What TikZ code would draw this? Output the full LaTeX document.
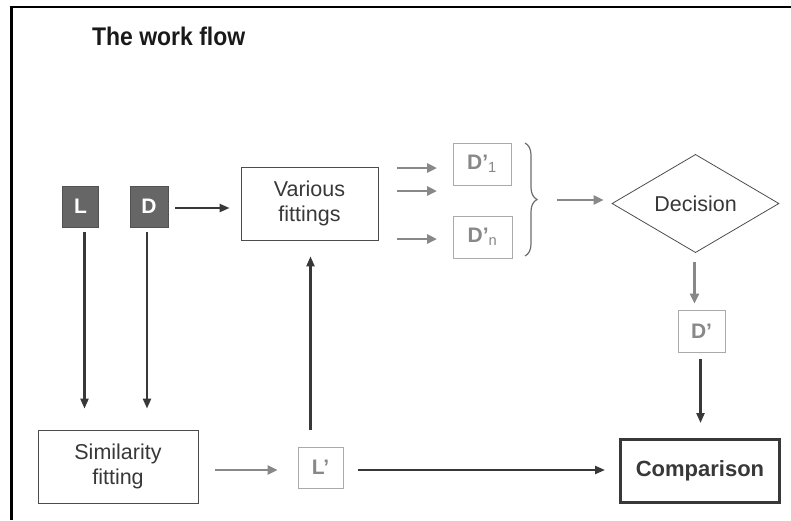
\documentclass[tikz,border=0pt]{standalone}
\usepackage{fontspec}
\setmainfont{Liberation Sans}
\newfontfamily\titlefont[FakeStretch=0.9]{Liberation Sans}
\usetikzlibrary{arrows.meta,shapes.geometric,decorations.pathreplacing}
\definecolor{dk}{HTML}{383838}
\definecolor{gr}{HTML}{888888}
\definecolor{lgr}{HTML}{AAAAAA}
\definecolor{fillg}{HTML}{666666}
\begin{document}
\begin{tikzpicture}[x=1pt,y=-1pt,
  fs/.style={font=\fontsize{#1}{#1}\selectfont},
  darkbox/.style={draw=fillg!80!black, fill=fillg, text=white, font=\bfseries\fontsize{21}{21}\selectfont, minimum height=41pt, inner sep=0pt},
  plainbox/.style={draw=black!70, line width=0.8pt, align=center, inner sep=0pt},
  greybox/.style={draw=lgr, line width=0.8pt, text=gr, font=\bfseries\fontsize{21}{21}\selectfont, inner sep=0pt, minimum height=42pt},
  darr/.style={draw=dk, line width=2.2pt, -{Triangle[length=10pt,width=8pt]}},
  garr/.style={draw=gr, line width=2.8pt, -{Triangle[length=10pt,width=9pt]}}
]
\useasboundingbox (0,0) rectangle (791,520);
% frame
\draw[line width=2.2pt] (9.5,7.3) -- (791,7.3);
\draw[line width=3pt] (11,6.2) -- (11,520);
% title
\node[anchor=west, inner sep=0pt, font=\titlefont\bfseries\fontsize{25.5}{26}\selectfont, text=black!90] (title) at (92,36) {The work flow};
% nodes
\node[darkbox, minimum width=36pt] (L) at (80.5,206.5) {L};
\node[darkbox, minimum width=38pt] (D) at (149,206.5) {D};
\node[plainbox, minimum width=137pt, minimum height=73pt, fs=21.5, text=dk] (VF) at (309.5,203.5) {Various\\[3pt]fittings};
\node[greybox, minimum width=58pt] (D1) at (482,164) {D’\textsubscript{\mdseries 1}};
\node[greybox, minimum width=59pt] (Dn) at (482.5,237) {D’\textsubscript{\mdseries n}};
\node[diamond, draw=black!70, line width=0.8pt, minimum width=167pt, minimum height=71pt, inner sep=0pt, fs=21.5, text=dk] (Dec) at (695.5,203.5) {Decision};
\node[greybox, minimum width=47pt] (Dp) at (701.5,331) {D’};
\node[plainbox, minimum width=160pt, minimum height=73pt, fs=21.5, text=dk] (Sim) at (118,466.5) {Similarity\\[3pt]fitting};
\node[greybox, minimum width=45pt, minimum height=41pt] (Lp) at (320.5,467.5) {L’};
\node[draw=dk, line width=3pt, minimum width=159pt, minimum height=63pt, inner sep=0pt, font=\bfseries\fontsize{22}{22}\selectfont, text=dk] (Cmp) at (700,471) {Comparison};
% brace
\coordinate (bt) at (550,200);
\draw[gr!80!black, line width=1.2pt, decorate, decoration={brace, amplitude=12pt, aspect=0.5}] (525,143) -- (525,256);
% gray input arrows
\coordinate (a1s) at (397,168); \coordinate (a1e) at (437,168);
\coordinate (a2s) at (397,191); \coordinate (a2e) at (437,191);
\coordinate (a3s) at (397,239); \coordinate (a3e) at (437,239);
\draw[garr] (a1s) -- (a1e);
\draw[garr] (a2s) -- (a2e);
\draw[garr] (a3s) -- (a3e);
% connectors
\draw[darr, shorten <=7pt, shorten >=11pt] (D.east |- 0,208) -- (VF.west |- 0,208);
\draw[darr, shorten <=5pt, shorten >=21pt] ([xshift=4pt]L.south) -- ([xshift=4pt]L.south |- Sim.north);
\draw[darr, shorten <=5pt, shorten >=21pt] ([xshift=-2pt]D.south) -- ([xshift=-2pt]D.south |- Sim.north);
\draw[garr, shorten <=17pt, shorten >=20pt] (Sim.east |- 0,470) -- (Lp.west |- 0,470);
\draw[darr, shorten <=15pt, shorten >=14pt] (Lp.east |- 0,470) -- (Cmp.west |- 0,470);
\draw[darr, shorten <=17pt, shorten >=16pt] ([xshift=-10pt]Lp.north) -- ([xshift=-10pt]Lp.north |- VF.south);
\draw[garr, shorten <=7pt, shorten >=8pt] (bt) -- (Dec.west |- bt);
\draw[garr, shorten <=9pt, shorten >=6pt] ([xshift=-1pt]Dec.south) -- ([xshift=-1pt]Dec.south |- Dp.north);
\draw[darr, shorten <=7pt, shorten >=15pt] ([xshift=-1pt]Dp.south) -- ([xshift=-1pt]Dp.south |- Cmp.north);
\end{tikzpicture}
\end{document}
